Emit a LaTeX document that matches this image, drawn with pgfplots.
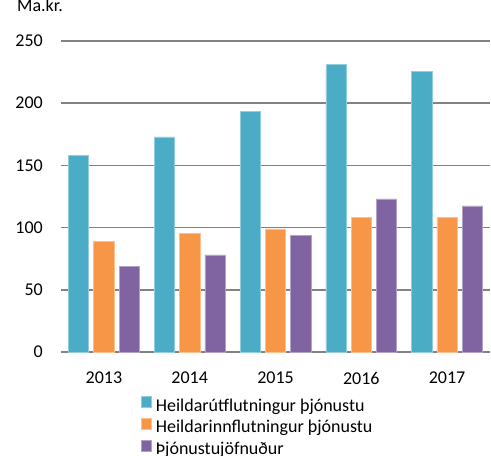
\documentclass[border=0pt]{standalone}
\usepackage{fontspec}
\setmainfont{Carlito}
\usepackage{pgfplots}
\pgfplotsset{compat=1.18}

\definecolor{cBlue}{RGB}{75,172,198}
\definecolor{cOrange}{RGB}{247,150,70}
\definecolor{cPurple}{RGB}{128,100,162}
\definecolor{cGrid}{RGB}{130,130,130}

\begin{document}
\fontsize{18}{21}\selectfont
\begin{tikzpicture}
\useasboundingbox (-61pt,-104pt) rectangle (430pt,352pt);
\begin{axis}[
  at={(0,0)}, anchor=south west,
  scale only axis,
  width=429pt, height=311pt,
  ybar, bar width=20.3pt,
  xmin=-0.5, xmax=4.5,
  ymin=0, ymax=250,
  xtick={0,1,2,3,4},
  xticklabels={2013,2014,2015,2016,2017},
  ytick={0,50,100,150,200,250},
  axis line style={draw=none},
  major tick length=0pt,
  ymajorgrids=true,
  grid style={cGrid, line width=1.6pt},
  /pgf/number format/assume math mode=true,
  tick label style={font=\fontsize{18}{21}\selectfont, text=black},
  yticklabel style={anchor=east, inner sep=0pt, xshift=-18pt},
  xticklabel style={anchor=north, inner sep=0pt, yshift=-20pt},
  clip=false,
  legend style={at={(0.18,-0.136)}, anchor=north west, draw=none, fill=none,
    font=\fontsize{18}{21}\selectfont, row sep=2.5pt,
    nodes={inner sep=0pt, text height=12.5pt, text depth=4.5pt},
    /tikz/every odd column/.append style={column sep=4pt}},
  legend cell align=left,
  legend image code/.code={\fill[#1] (0pt,-0.5pt) rectangle (10pt,10.5pt);},
]
\addplot[fill=cBlue, draw=cBlue!60!white, line width=0.5pt, bar shift=-25.3pt]
  coordinates {(0,158) (1,173) (2,193.5) (3,231) (4,225.5)};
\addlegendentry{Heildarútflutningur þjónustu}
\addplot[fill=cOrange, draw=cOrange!60!white, line width=0.5pt, bar shift=0pt]
  coordinates {(0,89) (1,95.5) (2,99) (3,108.5) (4,108)};
\addlegendentry{Heildarinnflutningur þjónustu}
\addplot[fill=cPurple, draw=cPurple!60!white, line width=0.5pt, bar shift=25.3pt]
  coordinates {(0,69) (1,78) (2,94) (3,123) (4,117.5)};
\addlegendentry{Þjónustujöfnuður}
\node[anchor=base west, inner sep=0pt, xshift=-44pt, yshift=30pt,
  font=\fontsize{18}{21}\selectfont] at (rel axis cs:0,1) {Ma.kr.};
\end{axis}
\end{tikzpicture}
\end{document}
